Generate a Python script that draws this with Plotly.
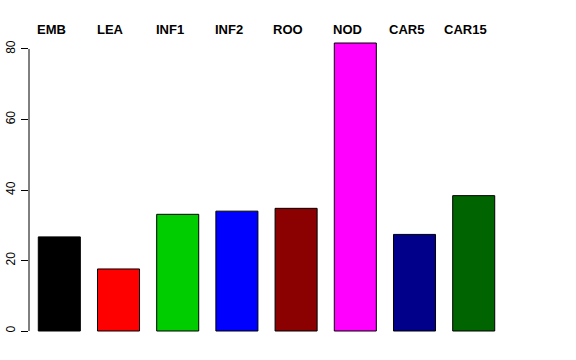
import plotly.graph_objects as go

categories = ["EMB", "LEA", "INF1", "INF2", "ROO", "NOD", "CAR5", "CAR15"]
values = [26.7, 17.6, 33.1, 34.0, 34.8, 81.7, 27.4, 38.4]
colors = ["#000000", "#FF0000", "#00CD00", "#0000FF", "#8B0000", "#FF00FF", "#00008B", "#006400"]
y_ticks = [0, 20, 40, 60, 80]

fig = go.Figure()
fig.add_trace(go.Bar(
    x=list(range(len(categories))), y=values,
    marker=dict(color=colors, line=dict(color="#000000", width=1)),
    width=0.71, showlegend=False, hoverinfo="skip",
))

for i, c in enumerate(categories):
    fig.add_annotation(x=i, y=1, xref="x", yref="paper", yshift=3, xshift=-8,
                       text="<b>%s</b>" % c, showarrow=False,
                       yanchor="middle",
                       font=dict(family="Liberation Sans, Arial", size=13, color="black"))

fig.add_shape(type="line", xref="paper", yref="y", x0=0, x1=0, y0=0, y1=80,
              line=dict(color="black", width=1))

fig.update_layout(
    width=576, height=360,
    margin=dict(l=29, r=46, t=32, b=18, autoexpand=False),
    plot_bgcolor="white", paper_bgcolor="white",
    xaxis=dict(range=[-0.512, 7.951], showticklabels=False, showgrid=False,
               zeroline=False, showline=False, ticks="", automargin=False),
    yaxis=dict(range=[-3.12, 84.82], tickvals=y_ticks, ticktext=[str(v) for v in y_ticks],
               ticks="outside", ticklen=7, tickcolor="black", tickwidth=1,
               tickangle=-90, showgrid=False, zeroline=False, showline=False,
               automargin=False, ticklabelstandoff=1,
               tickfont=dict(family="Liberation Sans, Arial", size=12, color="black")),
)
fig.write_html("out.html", config={"displayModeBar": False},
               post_script="document.body.style.margin='0';")
